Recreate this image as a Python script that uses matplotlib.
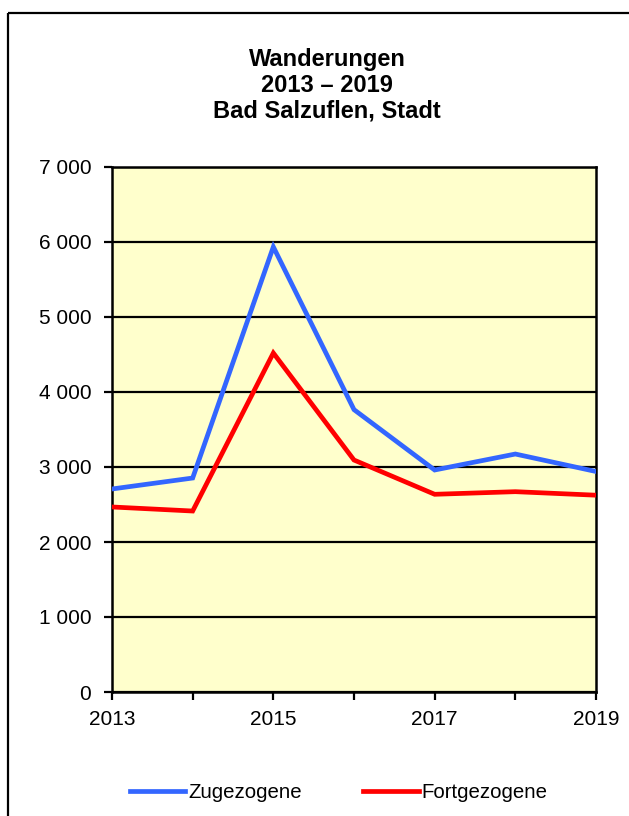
import matplotlib
matplotlib.use("Agg")
import matplotlib.pyplot as plt
from matplotlib.patches import Rectangle
from matplotlib.ticker import FuncFormatter, MultipleLocator

years = [2013, 2014, 2015, 2016, 2017, 2018, 2019]
zugezogene = [2707, 2853, 5935, 3765, 2960, 3173, 2940]
fortgezogene = [2467, 2413, 4520, 3093, 2636, 2671, 2624]
xtick_labels = [2013, 2015, 2017, 2019]
title_text = "Wanderungen\n2013 \u2013 2019\nBad Salzuflen, Stadt"

plt.rcParams['font.family'] = ['Liberation Sans', 'DejaVu Sans']

W, H = 629, 816
fig = plt.figure(figsize=(W / 100, H / 100), dpi=100)

# outer frame
frame = Rectangle((8 / W, 1 - 13 / H), 700 / W, -900 / H, transform=fig.transFigure,
                  fill=False, edgecolor='black', linewidth=1.6, clip_on=False)
fig.patches.append(frame)

ax = fig.add_axes([112 / W, 1 - 692 / H, (596 - 112) / W, (692 - 167) / H])
ax.set_facecolor('#FFFFCC')

ax.plot(years, zugezogene, color='#3366FF', linewidth=3.4, label='Zugezogene',
        solid_joinstyle='miter', zorder=3)
ax.plot(years, fortgezogene, color='#FF0000', linewidth=3.4, label='Fortgezogene',
        solid_joinstyle='miter', zorder=3)

ax.set_xlim(2013, 2019)
ax.set_ylim(0, 7000)
ax.yaxis.set_major_locator(MultipleLocator(1000))
ax.yaxis.set_major_formatter(FuncFormatter(lambda v, p: f"{int(v):,}".replace(",", " ")))
ax.set_xticks(years)
ax.set_xticklabels([str(y) if y in xtick_labels else "" for y in years])
ax.grid(axis='y', color='black', linewidth=1.6, zorder=1)
ax.set_axisbelow(True)
for s in ax.spines.values():
    s.set_linewidth(1.8)
    s.set_color('black')
ax.tick_params(axis='both', direction='out', length=6, width=1.6, labelsize=15)
ax.tick_params(axis='y', pad=9)
ax.tick_params(axis='x', pad=7)

fig.text(327 / W, 1 - 85 / H, title_text, ha='center', va='center', fontsize=17,
         fontweight='bold', linespacing=1.15)

fig.legend(loc='center', bbox_to_anchor=(339 / W, 1 - 793 / H), ncol=2, frameon=False,
           fontsize=14.7, handlelength=2.7, handletextpad=0.15, columnspacing=3.0)

fig.savefig('out.png', dpi=100)
